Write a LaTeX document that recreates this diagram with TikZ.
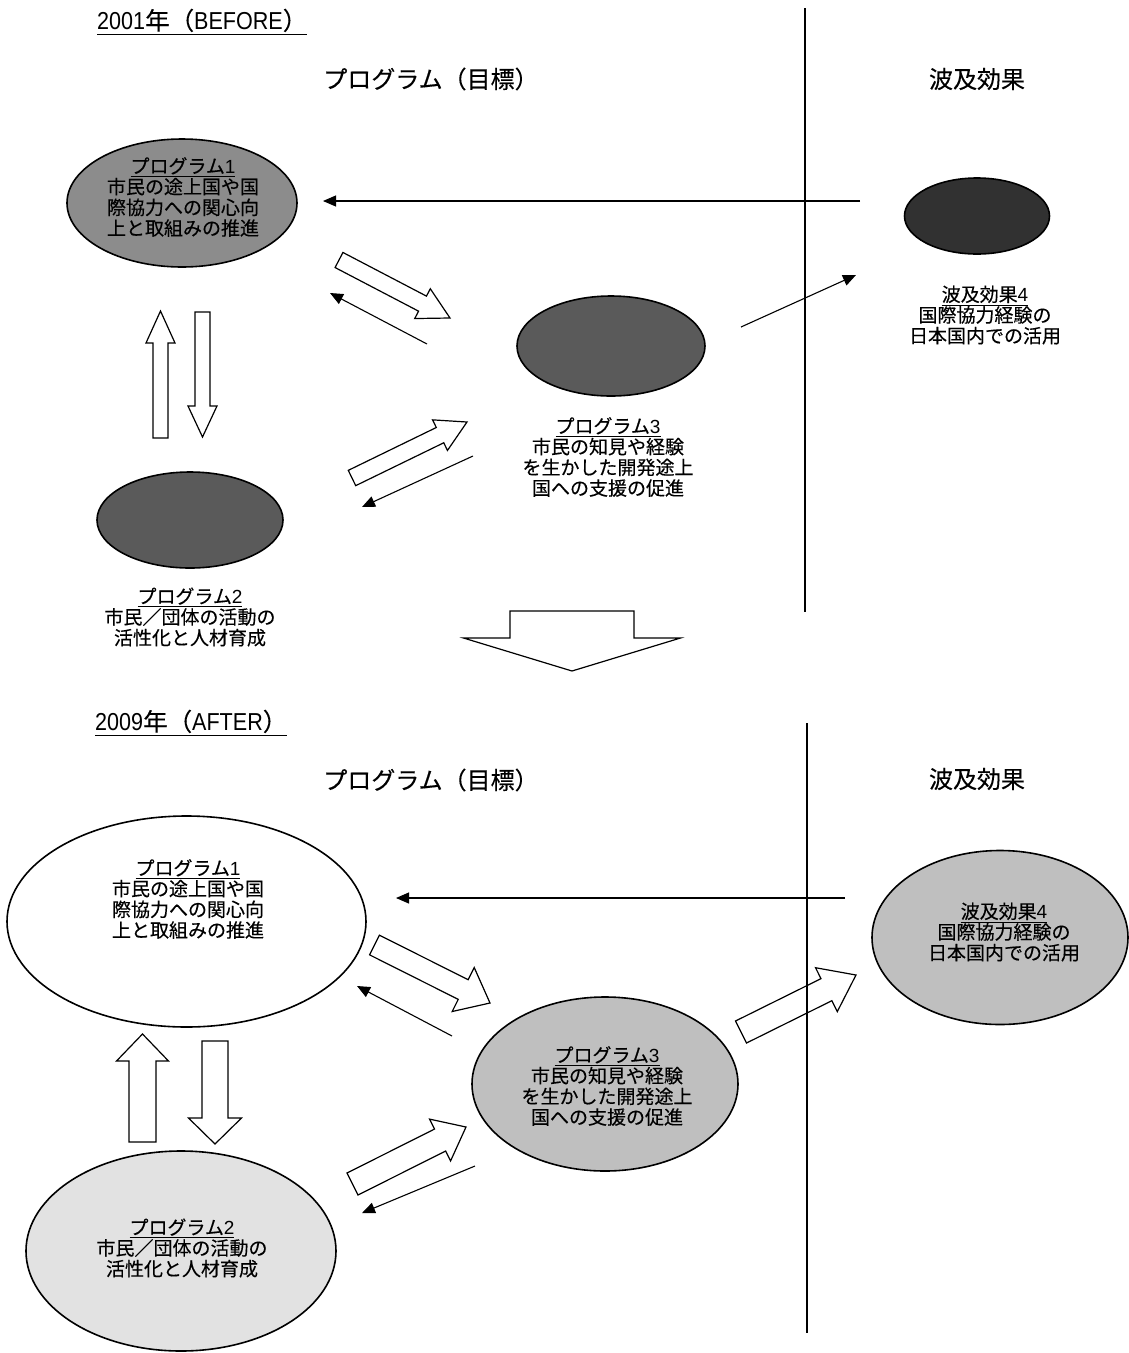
\documentclass[tikz,border=0pt]{standalone}
\usepackage{fontspec}
\setmainfont{Noto Sans CJK JP}[FakeBold=0.3]
\newfontfamily\lat{Liberation Sans}
\newfontfamily\latn{Liberation Sans}[FakeStretch=0.88]
\usetikzlibrary{calc,arrows.meta,shapes.geometric}

\definecolor{grayA}{HTML}{8C8C8C}
\definecolor{grayB}{HTML}{5A5A5A}
\definecolor{grayC}{HTML}{313131}
\definecolor{grayD}{HTML}{E2E2E2}
\definecolor{grayE}{HTML}{BFBFBF}

\newcommand\myul[2][1.2pt]{\leavevmode\vtop{\hbox{#2}\kern1.5pt\hrule height #1}}

% block arrow: #1 tail coordinate, #2 tip coordinate, #3 half shaft width, #4 half head width, #5 head length
\newcommand\blockarrow[5]{%
  \path let \p1=($(#2)-(#1)$), \n1={atan2(\y1,\x1)}, \n2={veclen(\x1,\y1)} in
    \pgfextra{\xdef\baAng{\n1}\xdef\baLen{\n2}};
  \begin{scope}[shift={(#1)}, rotate=\baAng]
    \draw[blockarr] (0pt,#3pt) -- ({\baLen*1pt-#5pt},#3pt) -- ({\baLen*1pt-#5pt},#4pt)
      -- ({\baLen*1pt},0pt) -- ({\baLen*1pt-#5pt},-#4pt) -- ({\baLen*1pt-#5pt},-#3pt)
      -- (0pt,-#3pt) -- cycle;
  \end{scope}}

\begin{document}
\begin{tikzpicture}[x=1pt,y=-1pt,
  ell/.style={ellipse, draw, line width=1.6pt, inner sep=0pt},
  lbl/.style={align=center, font=\fontsize{19}{20.7}\selectfont, inner sep=0pt},
  headtxt/.style={font=\fontsize{24}{28}\selectfont, inner sep=0pt},
  titletxt/.style={font=\fontsize{24.5}{28}\selectfont, inner sep=0pt, anchor=west},
  conn/.style={line width=1.1pt, -{Triangle[length=13pt,width=11pt]}},
  blockarr/.style={draw, line width=1.2pt, fill=white, line join=miter},
  divider/.style={line width=1.2pt}]
\useasboundingbox (0,0) rectangle (1129,1353);

% ================= 2001 (BEFORE) =================
\node[titletxt] (ttl1) at (97,22) {\myul[1.7pt]{{\latn 2001}年（{\latn BEFORE}）}};
\node[headtxt] (hp1) at (431,79) {プログラム（目標）};
\node[headtxt] (he1) at (977,79) {波及効果};

\node[ell, fill=grayA, minimum width=230pt, minimum height=128pt] (a1) at (182,203) {};
\node[lbl] (a1t) at (183,197) {\myul{プログラム{\lat 1}}\\市民の途上国や国\\際協力への関心向\\上と取組みの推進};

\node[ell, fill=grayB, minimum width=186pt, minimum height=96pt] (a2) at (190,520) {};
\node[lbl] (a2t) at (190,617) {\myul{プログラム{\lat 2}}\\市民／団体の活動の\\活性化と人材育成};

\node[ell, fill=grayB, minimum width=188pt, minimum height=100pt] (a3) at (611,346) {};
\node[lbl] (a3t) at (608,457) {\myul{プログラム{\lat 3}}\\市民の知見や経験\\を生かした開発途上\\国への支援の促進};

\node[ell, fill=grayC, minimum width=145pt, minimum height=76pt] (a4) at (977,216) {};
\node[lbl] (a4t) at (985,315) {\myul{波及効果{\lat 4}}\\国際協力経験の\\日本国内での活用};

% thin arrows
\coordinate (t1s) at (860,201); \coordinate (t1e) at (323,201);
\draw[conn] (t1s) -- (t1e);
\coordinate (t2s) at (741,327); \coordinate (t2e) at (856,275);
\draw[conn] (t2s) -- (t2e);
\coordinate (t3s) at (427,344); \coordinate (t3e) at (330,293);
\draw[conn] (t3s) -- (t3e);
\coordinate (t4s) at (473,456); \coordinate (t4e) at (362,507);
\draw[conn] (t4s) -- (t4e);

% block arrows
\coordinate (u1s) at (160.5,438); \coordinate (u1e) at (160.5,311);
\blockarrow{u1s}{u1e}{7.5}{14.5}{32}
\coordinate (d1s) at (202.5,312); \coordinate (d1e) at (202.5,437);
\blockarrow{d1s}{d1e}{7.5}{14.5}{31}
\coordinate (g1s) at (339,260); \coordinate (g1e) at (450,318);
\blockarrow{g1s}{g1e}{8.5}{16.8}{31}
\coordinate (g2s) at (352,478); \coordinate (g2e) at (467,422);
\blockarrow{g2s}{g2e}{8.5}{17}{30}

% big transition arrow
\coordinate (bgs) at (572,611); \coordinate (bge) at (572,671);
\blockarrow{bgs}{bge}{62}{108.5}{33}

% ================= 2009 (AFTER) =================
\node[titletxt] (ttl2) at (95,723) {\myul[1.7pt]{{\latn 2009}年（{\latn AFTER}）}};
\node[headtxt] (hp2) at (431,780) {プログラム（目標）};
\node[headtxt] (he2) at (977,779) {波及効果};

\node[ell, fill=white, minimum width=359pt, minimum height=211pt] (b1) at (186.5,921.5) {};
\node[lbl] (b1t) at (188,899) {\myul{プログラム{\lat 1}}\\市民の途上国や国\\際協力への関心向\\上と取組みの推進};

\node[ell, fill=grayD, minimum width=310pt, minimum height=200pt] (b2) at (181,1251) {};
\node[lbl] (b2t) at (182,1248) {\myul{プログラム{\lat 2}}\\市民／団体の活動の\\活性化と人材育成};

\node[ell, fill=grayE, minimum width=266pt, minimum height=174pt] (b3) at (605,1084) {};
\node[lbl] (b3t) at (607,1086) {\myul{プログラム{\lat 3}}\\市民の知見や経験\\を生かした開発途上\\国への支援の促進};

\node[ell, fill=grayE, minimum width=256pt, minimum height=174pt] (b4) at (1000,937.5) {};
\node[lbl] (b4t) at (1004,932) {\myul{波及効果{\lat 4}}\\国際協力経験の\\日本国内での活用};

% thin arrows
\coordinate (s1s) at (845,898); \coordinate (s1e) at (396,898);
\draw[conn] (s1s) -- (s1e);
\coordinate (s3s) at (452,1036); \coordinate (s3e) at (357,986);
\draw[conn] (s3s) -- (s3e);
\coordinate (s4s) at (475,1166); \coordinate (s4e) at (362,1213);
\draw[conn] (s4s) -- (s4e);

% block arrows
\coordinate (u2s) at (142.5,1142); \coordinate (u2e) at (142.5,1034);
\blockarrow{u2s}{u2e}{13.5}{26}{27}
\coordinate (d2s) at (215,1041); \coordinate (d2e) at (215,1144);
\blockarrow{d2s}{d2e}{13}{26.5}{26}
\coordinate (h1s) at (374.5,945); \coordinate (h1e) at (490,1003);
\blockarrow{h1s}{h1e}{11}{24.6}{30}
\coordinate (h2s) at (352.5,1184); \coordinate (h2e) at (466,1127);
\blockarrow{h2s}{h2e}{12.3}{23.4}{29}
\coordinate (h3s) at (741,1032); \coordinate (h3e) at (856,975);
\blockarrow{h3s}{h3e}{12.3}{24.5}{33}

% dividers (drawn last so they cross the arrows)
\coordinate (v1a) at (805,8); \coordinate (v1b) at (805,612);
\draw[divider] (v1a) -- (v1b);
\coordinate (v2a) at (807,723); \coordinate (v2b) at (807,1333);
\draw[divider] (v2a) -- (v2b);
\end{tikzpicture}
\end{document}
